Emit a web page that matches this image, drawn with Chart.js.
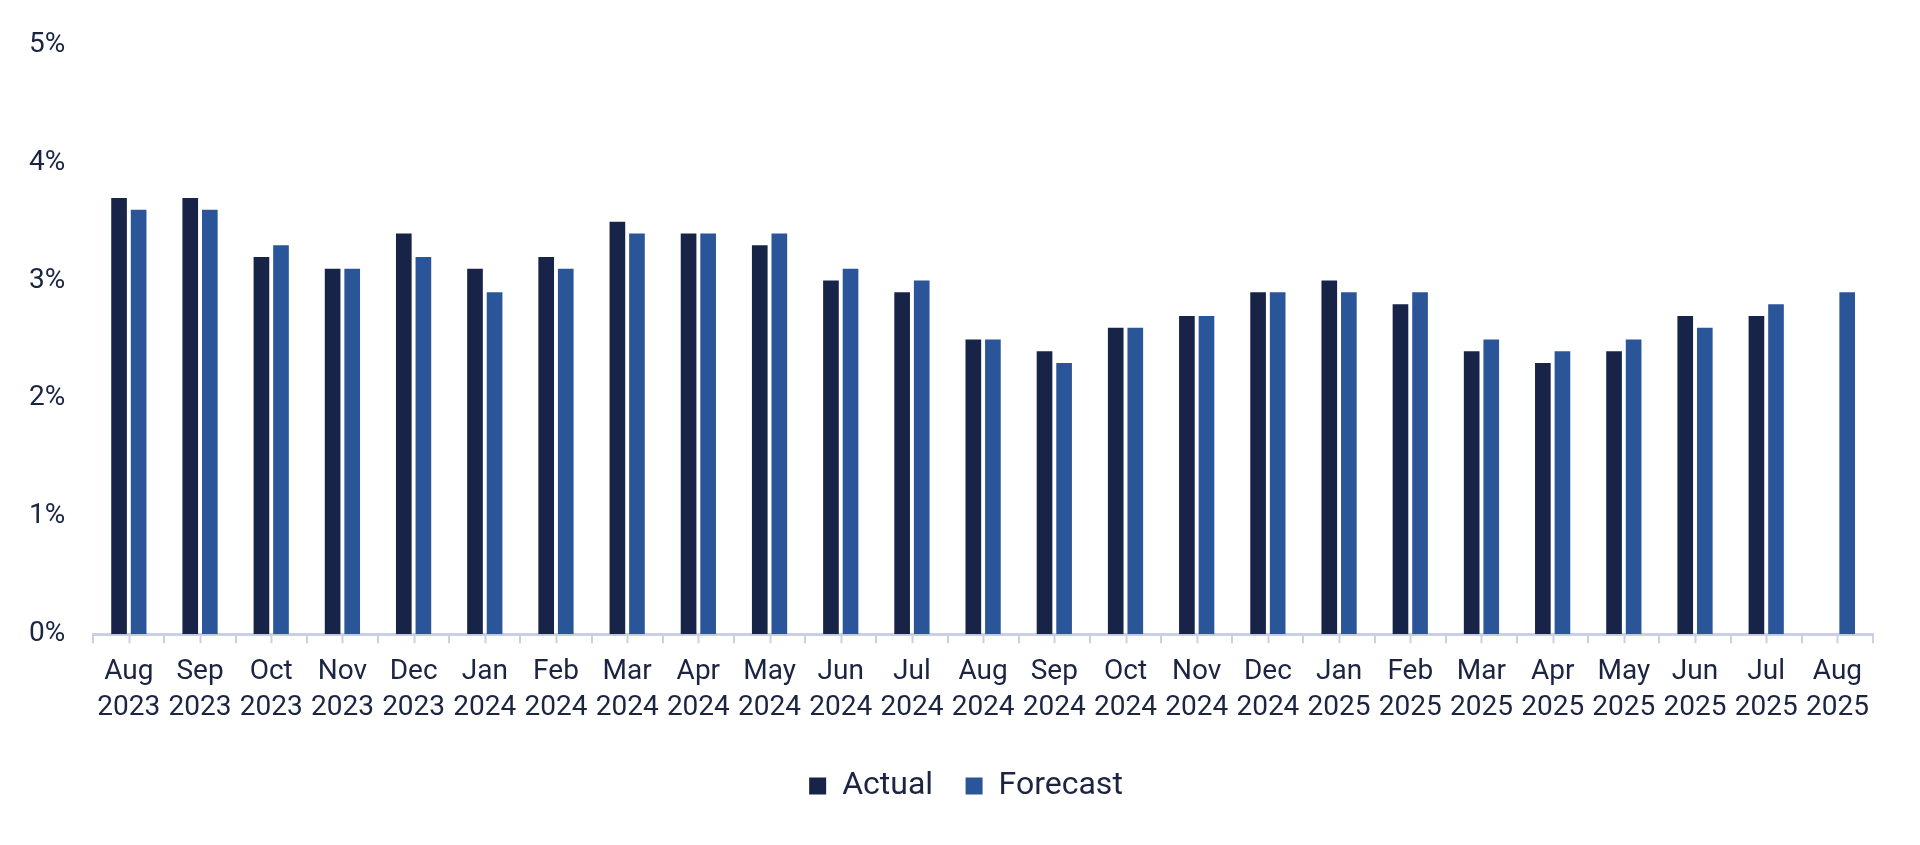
<!DOCTYPE html>
<html>
<head>
<meta charset="utf-8">
<script src="https://cdn.jsdelivr.net/npm/chart.js@4"></script>
<style>
  html, body { margin: 0; padding: 0; background: #ffffff; }
  #wrap { width: 1920px; height: 845px; }
</style>
</head>
<body>
<div id="wrap"><canvas id="rateChart"></canvas></div>
<script>
const months = [
    ['Aug', '2023'], ['Sep', '2023'], ['Oct', '2023'], ['Nov', '2023'], ['Dec', '2023'],
    ['Jan', '2024'], ['Feb', '2024'], ['Mar', '2024'], ['Apr', '2024'], ['May', '2024'],
    ['Jun', '2024'], ['Jul', '2024'], ['Aug', '2024'], ['Sep', '2024'], ['Oct', '2024'],
    ['Nov', '2024'], ['Dec', '2024'], ['Jan', '2025'], ['Feb', '2025'], ['Mar', '2025'],
    ['Apr', '2025'], ['May', '2025'], ['Jun', '2025'], ['Jul', '2025'], ['Aug', '2025']
];
const actual = [3.7, 3.7, 3.2, 3.1, 3.4, 3.1, 3.2, 3.5, 3.4, 3.3, 3.0, 2.9, 2.5, 2.4, 2.6, 2.7, 2.9, 3.0, 2.8, 2.4, 2.3, 2.4, 2.7, 2.7, null];
const forecast = [3.6, 3.6, 3.3, 3.1, 3.2, 2.9, 3.1, 3.4, 3.4, 3.4, 3.1, 3.0, 2.5, 2.3, 2.6, 2.7, 2.9, 2.9, 2.9, 2.5, 2.4, 2.5, 2.6, 2.8, 2.9];
const yTicks = [0, 1, 2, 3, 4, 5];

const textColor = '#1b2542';
const axisColor = '#c9d0e6';

// small tick under the middle of every month, between the boundary ticks
const centerTicks = {
    id: 'centerTicks',
    afterLayout(chart) {
        // legend sits a bit right of the canvas centre in the original
        chart.legend.left += 29;
        chart.legend.right += 29;
    },
    afterDraw(chart) {
        const x = chart.scales.x;
        const c = chart.ctx;
        c.save();
        c.strokeStyle = axisColor;
        c.lineWidth = 2;
        months.forEach((m, i) => {
            const px = Math.round(x.getPixelForValue(i)) + 0.5;
            c.beginPath();
            c.moveTo(px, x.top);
            c.lineTo(px, x.top + 9);
            c.stroke();
        });
        c.restore();
    }
};

Chart.defaults.font.family = 'Roboto, "Noto Sans", sans-serif';
Chart.defaults.color = textColor;

new Chart(document.getElementById('rateChart').getContext('2d'), {
    type: 'bar',
    data: {
        labels: months,
        datasets: [
            {
                label: 'Actual',
                data: actual,
                backgroundColor: '#172447',
                categoryPercentage: 0.55,
                barPercentage: 0.8
            },
            {
                label: 'Forecast',
                data: forecast,
                backgroundColor: '#2a5699',
                categoryPercentage: 0.55,
                barPercentage: 0.8
            }
        ]
    },
    options: {
        responsive: true,
        maintainAspectRatio: false,
        animation: false,
        layout: { padding: { left: 1, right: 47, top: 34, bottom: 33 } },
        scales: {
            x: {
                grid: {
                    display: true,
                    drawOnChartArea: false,
                    drawTicks: true,
                    tickLength: 9,
                    offset: true,
                    color: axisColor,
                    lineWidth: 2
                },
                border: { display: true, color: axisColor, width: 3 },
                ticks: {
                    font: { size: 28, lineHeight: 1.29 },
                    color: textColor,
                    padding: 11,
                    maxRotation: 0,
                    autoSkip: false
                }
            },
            y: {
                min: 0,
                max: 5,
                afterBuildTicks(scale) {
                    scale.ticks = yTicks.map(v => ({ value: v }));
                },
                grid: { display: false, drawTicks: false },
                border: { display: false },
                ticks: {
                    font: { size: 28 },
                    color: textColor,
                    padding: 28,
                    callback: v => v + '%'
                }
            }
        },
        plugins: {
            legend: {
                position: 'bottom',
                labels: {
                    boxWidth: 17,
                    boxHeight: 17,
                    padding: 32.5,
                    font: { size: 32 },
                    color: textColor
                }
            },
            tooltip: { enabled: false }
        }
    },
    plugins: [centerTicks]
});
</script>
</body>
</html>
